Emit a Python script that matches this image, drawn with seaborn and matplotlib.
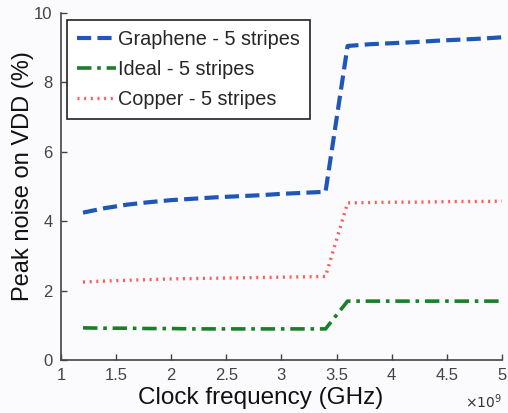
import matplotlib
matplotlib.use("Agg")
import matplotlib.pyplot as plt
import seaborn as sns
import pandas as pd

# Clock frequency sweep (GHz)
freq = [1.2, 1.4, 1.6, 1.8, 2.0, 2.2, 2.4, 2.6, 2.8, 3.0, 3.2, 3.4,
        3.6, 3.8, 4.0, 4.2, 4.4, 4.6, 4.8, 5.0]

# Peak noise on VDD (%) for each interconnect material
graphene = [4.25, 4.38, 4.48, 4.55, 4.61, 4.65, 4.69, 4.72, 4.75, 4.79, 4.82, 4.85,
            9.05, 9.10, 9.13, 9.16, 9.20, 9.23, 9.26, 9.30]
ideal = [0.93, 0.92, 0.92, 0.91, 0.91, 0.90, 0.90, 0.90, 0.90, 0.90, 0.90, 0.90,
         1.70, 1.70, 1.70, 1.70, 1.70, 1.70, 1.70, 1.70]
copper = [2.25, 2.28, 2.30, 2.32, 2.34, 2.35, 2.36, 2.37, 2.38, 2.39, 2.40, 2.41,
          4.53, 4.54, 4.55, 4.55, 4.56, 4.57, 4.57, 4.58]

labels = ["Graphene - 5 stripes", "Ideal - 5 stripes", "Copper - 5 stripes"]
xticks = [1, 1.5, 2, 2.5, 3, 3.5, 4, 4.5, 5]
xticklabels = ["1", "1.5", "2", "2.5", "3", "3.5", "4", "4.5", "5"]
yticks = [0, 2, 4, 6, 8, 10]

sns.set_style("ticks")
plt.rcParams["font.family"] = ["Liberation Sans", "DejaVu Sans"]

fig = plt.figure(figsize=(5.08, 4.13), dpi=100, facecolor="#fbfbfd")
ax = fig.add_axes([0.120, 0.128, 0.868, 0.8405])
ax.set_facecolor("#fbfbfd")

df = pd.DataFrame({"freq": freq, "graphene": graphene, "ideal": ideal, "copper": copper})

sns.lineplot(data=df, x="freq", y="graphene", ax=ax, color="#1f57b8", lw=3.0,
             linestyle=(0, (3.4, 1.5)), label=labels[0])
sns.lineplot(data=df, x="freq", y="ideal", ax=ax, color="#1b7f2a", lw=2.6,
             linestyle=(0, (4.0, 1.6, 1.0, 1.6)), label=labels[1])
sns.lineplot(data=df, x="freq", y="copper", ax=ax, color="#ff5a5a", lw=2.4,
             linestyle=(0, (0.6, 1.4)), label=labels[2])

ax.set_xlim(1, 5)
ax.set_ylim(0, 10)
ax.set_xticks(xticks)
ax.set_xticklabels(xticklabels)
ax.set_yticks(yticks)
ax.tick_params(direction="in", length=4, width=1, colors="#444444", labelsize=12, pad=6)
for s in ("top", "right"):
    ax.spines[s].set_visible(False)
for s in ("left", "bottom"):
    ax.spines[s].set_color("#444444")
    ax.spines[s].set_linewidth(1.2)

ax.set_xlabel("Clock frequency (GHz)", fontsize=17.5, color="#111111")
ax.set_ylabel("Peak noise on VDD (%)", fontsize=17, color="#111111")
ax.xaxis.set_label_coords(0.452, -0.078)
ax.yaxis.set_label_coords(-0.062, 0.53)

leg = ax.legend(loc="upper left", bbox_to_anchor=(0.013, 0.98), fontsize=14.3,
                frameon=True, fancybox=False, handlelength=2.0, handletextpad=0.1,
                borderpad=0.5, labelspacing=0.55, borderaxespad=0.0)
leg.get_frame().set_edgecolor("#222222")
leg.get_frame().set_linewidth(1.2)
leg.get_frame().set_facecolor("white")
leg.get_frame().set_alpha(1.0)

# axis multiplier in the lower right corner
fig.text(0.988, 0.004, r"$\times10^{9}$", fontsize=10, color="#333333",
         ha="right", va="bottom")

fig.savefig("out.png", dpi=100, facecolor=fig.get_facecolor())
